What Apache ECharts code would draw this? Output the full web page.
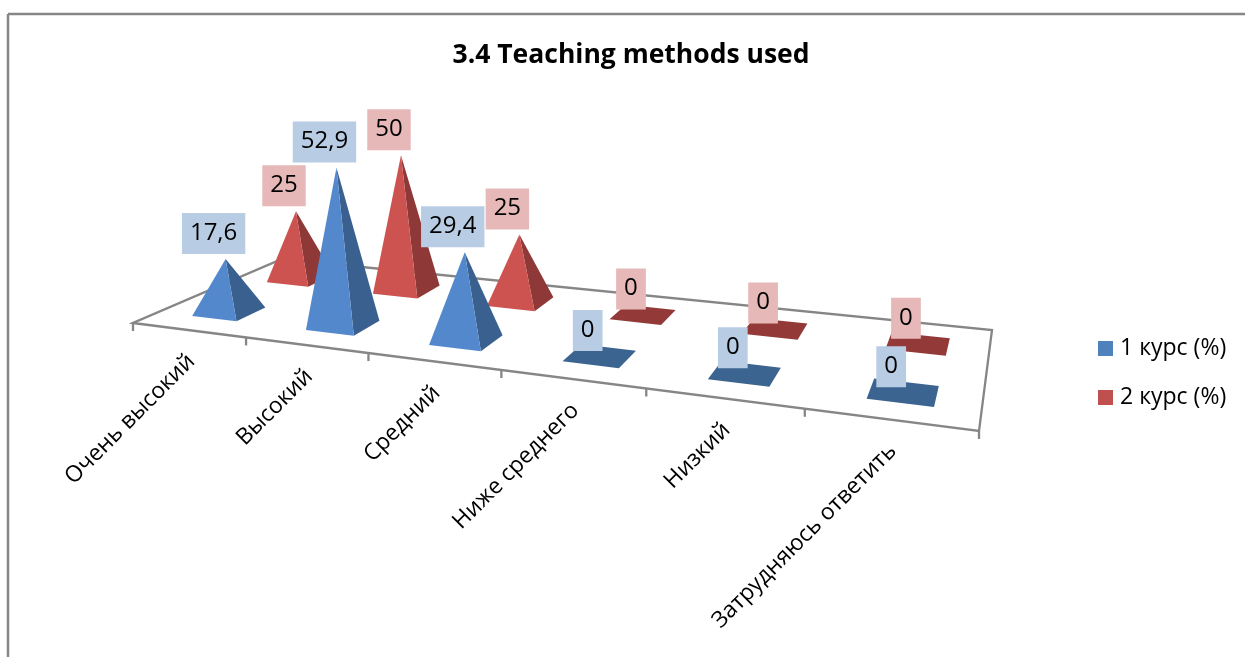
<!DOCTYPE html>
<html>
<head>
<meta charset="utf-8">
<style>html,body{margin:0;padding:0;background:#fff}#chart{width:1245px;height:657px}</style>
<script src="https://cdn.jsdelivr.net/npm/echarts@6/dist/echarts.min.js"></script>
</head>
<body>
<div id="chart"></div>
<script>
const categories = ['Очень высокий', 'Высокий', 'Средний', 'Ниже среднего', 'Низкий', 'Затрудняюсь ответить'];
const course1 = [17.6, 52.9, 29.4, 0, 0, 0];
const course2 = [25, 50, 25, 0, 0, 0];

const FONT = '"Open Sans", sans-serif';
const gridLeft = 133, gridWidth = 846;

// углы пола на картинке: перед-лево, перед-право, зад-право, зад-лево
const floor = [[133, 323], [979, 431], [992, 330], [282, 259]];

// перспектива: единичный квадрат (u, v) -> четырёхугольник пола
function makeProjection(q) {
  const dx1 = q[1][0] - q[2][0], dx2 = q[3][0] - q[2][0], sx = q[0][0] - q[1][0] + q[2][0] - q[3][0];
  const dy1 = q[1][1] - q[2][1], dy2 = q[3][1] - q[2][1], sy = q[0][1] - q[1][1] + q[2][1] - q[3][1];
  const den = dx1 * dy2 - dx2 * dy1;
  const g = (sx * dy2 - dx2 * sy) / den;
  const h = (dx1 * sy - sx * dy1) / den;
  const a = q[1][0] - q[0][0] + g * q[1][0], b = q[3][0] - q[0][0] + h * q[3][0];
  const d = q[1][1] - q[0][1] + g * q[1][1], e = q[3][1] - q[0][1] + h * q[3][1];
  return function (u, v) {
    const w = g * u + h * v + 1;
    return [(a * u + b * v + q[0][0]) / w, (d * u + e * v + q[0][1]) / w];
  };
}
const project = makeProjection(floor);

function pyramidGeom(api, v0, v1, depthScale) {
  const cat = api.value(0), val = api.value(1);
  const cell = api.size([1, 0])[0] / gridWidth;
  const uc = (api.coord([cat, 0])[0] - gridLeft) / gridWidth + cell * (0.008 + 0.004 * cat);
  const u0 = uc - cell * 0.2, u1 = uc + cell * 0.2;
  const fl = project(u0, v0), fr = project(u1, v0), br = project(u1, v1), bl = project(u0, v1);
  const c = project(uc, (v0 + v1) / 2);
  const hgt = api.size([0, val])[1] * depthScale;
  // вертикали слегка сходятся, как в оригинале
  const apex = [c[0] + hgt * (-0.08 + 0.15 * uc), c[1] - hgt];
  return { fl, fr, br, bl, apex, val };
}

function pyramidSeries(name, data, v0, v1, depthScale, z, colors) {
  return {
    name: name,
    type: 'custom',
    coordinateSystem: 'cartesian2d',
    z: z,
    silent: true,
    itemStyle: { color: colors.legend },
    data: data.map((v, i) => [i, v]),
    encode: { x: 0, y: 1 },
    renderItem: function (params, api) {
      const p = pyramidGeom(api, v0, v1, depthScale);
      if (p.val === 0) {
        return { type: 'polygon', shape: { points: [p.fl, p.fr, p.br, p.bl] }, style: { fill: colors.flat } };
      }
      return {
        type: 'group',
        children: [
          { type: 'polygon', shape: { points: [p.fr, p.br, p.apex] }, style: { fill: colors.side } },
          { type: 'polygon', shape: { points: [p.fl, p.fr, p.apex] }, style: { fill: colors.front } }
        ]
      };
    }
  };
}

function labelSeries(name, data, v0, v1, depthScale, z, bg) {
  return {
    name: name,
    type: 'custom',
    coordinateSystem: 'cartesian2d',
    z: z,
    silent: true,
    data: data.map((v, i) => [i, v]),
    encode: { x: 0, y: 1 },
    renderItem: function (params, api) {
      const p = pyramidGeom(api, v0, v1, depthScale);
      return {
        type: 'text',
        x: p.apex[0] - 12,
        y: p.apex[1] - 5,
        style: {
          text: String(p.val).replace('.', ','),
          fill: '#000',
          font: '24px ' + FONT,
          align: 'center',
          verticalAlign: 'bottom',
          backgroundColor: bg,
          padding: [5, 8, 6, 8],
          lineHeight: 30
        }
      };
    }
  };
}

const blue = { legend: '#4f81bd', front: '#5389cc', side: '#3a6090', flat: '#3c6491' };
const red = { legend: '#c0504d', front: '#cd5350', side: '#8e3837', flat: '#933a39' };

const option = {
  animation: false,
  backgroundColor: '#fff',
  title: {
    text: '3.4 Teaching methods used',
    left: 626,
    top: 37,
    textAlign: 'center',
    textStyle: { fontFamily: FONT, fontSize: 26.5, fontWeight: 'bold', color: '#000' }
  },
  legend: {
    orient: 'vertical',
    left: 1098,
    top: 337,
    padding: 0,
    itemWidth: 15,
    itemHeight: 15,
    itemGap: 26,
    icon: 'rect',
    data: ['1 курс (%)', '2 курс (%)'],
    textStyle: { fontFamily: FONT, fontSize: 23, color: '#000', padding: [0, 0, 0, 2] }
  },
  grid: { left: gridLeft, width: gridWidth, top: 60, height: 179 },
  xAxis: { type: 'category', data: categories, show: false },
  yAxis: { type: 'value', min: 0, max: 60, show: false },
  graphic: [
    { type: 'line', shape: { x1: 8, y1: 14, x2: 1245, y2: 14 }, style: { stroke: '#868686', lineWidth: 2.5 } },
    { type: 'line', shape: { x1: 8, y1: 14, x2: 8, y2: 657 }, style: { stroke: '#868686', lineWidth: 2.5 } }
  ],
  series: [
    {
      name: 'floor',
      type: 'custom',
      coordinateSystem: 'cartesian2d',
      z: 1,
      silent: true,
      data: categories.map((c, i) => [i, 0]),
      encode: { x: 0, y: 1 },
      renderItem: function (params, api) {
        const line = { stroke: '#868686', lineWidth: 2.3 };
        const kids = [];
        const i = api.value(0);
        const cell = api.size([1, 0])[0] / gridWidth;
        const uc = (api.coord([i, 0])[0] - gridLeft) / gridWidth;
        const a = project(uc - cell / 2, 0);
        kids.push({ type: 'line', shape: { x1: a[0], y1: a[1], x2: a[0], y2: a[1] + 8 }, style: line });
        if (i === categories.length - 1) {
          const e = project(1, 0);
          kids.push({ type: 'line', shape: { x1: e[0], y1: e[1], x2: e[0], y2: e[1] + 8 }, style: line });
        }
        if (i === 0) {
          kids.push({ type: 'polygon', shape: { points: floor }, style: { fill: 'none', stroke: '#868686', lineWidth: 2.3 } });
        }
        const mid = project(uc, 0);
        kids.push({
          type: 'text',
          x: mid[0] + 3,
          y: mid[1] + 28,
          rotation: Math.PI / 4,
          style: {
            text: categories[i],
            fill: '#000',
            font: '22.7px ' + FONT,
            align: 'right',
            verticalAlign: 'middle'
          }
        });
        return { type: 'group', children: kids };
      }
    },
    pyramidSeries('2 курс (%)', course2, 0.65, 0.85, 0.9, 2, red),
    pyramidSeries('1 курс (%)', course1, 0.15, 0.34, 1, 3, blue),
    labelSeries('подписи 2', course2, 0.65, 0.85, 0.9, 4, '#e6b9b8'),
    labelSeries('подписи 1', course1, 0.15, 0.34, 1, 5, '#b8cce4')
  ]
};

const chart = echarts.init(document.getElementById('chart'));
chart.setOption(option);
</script>
</body>
</html>
